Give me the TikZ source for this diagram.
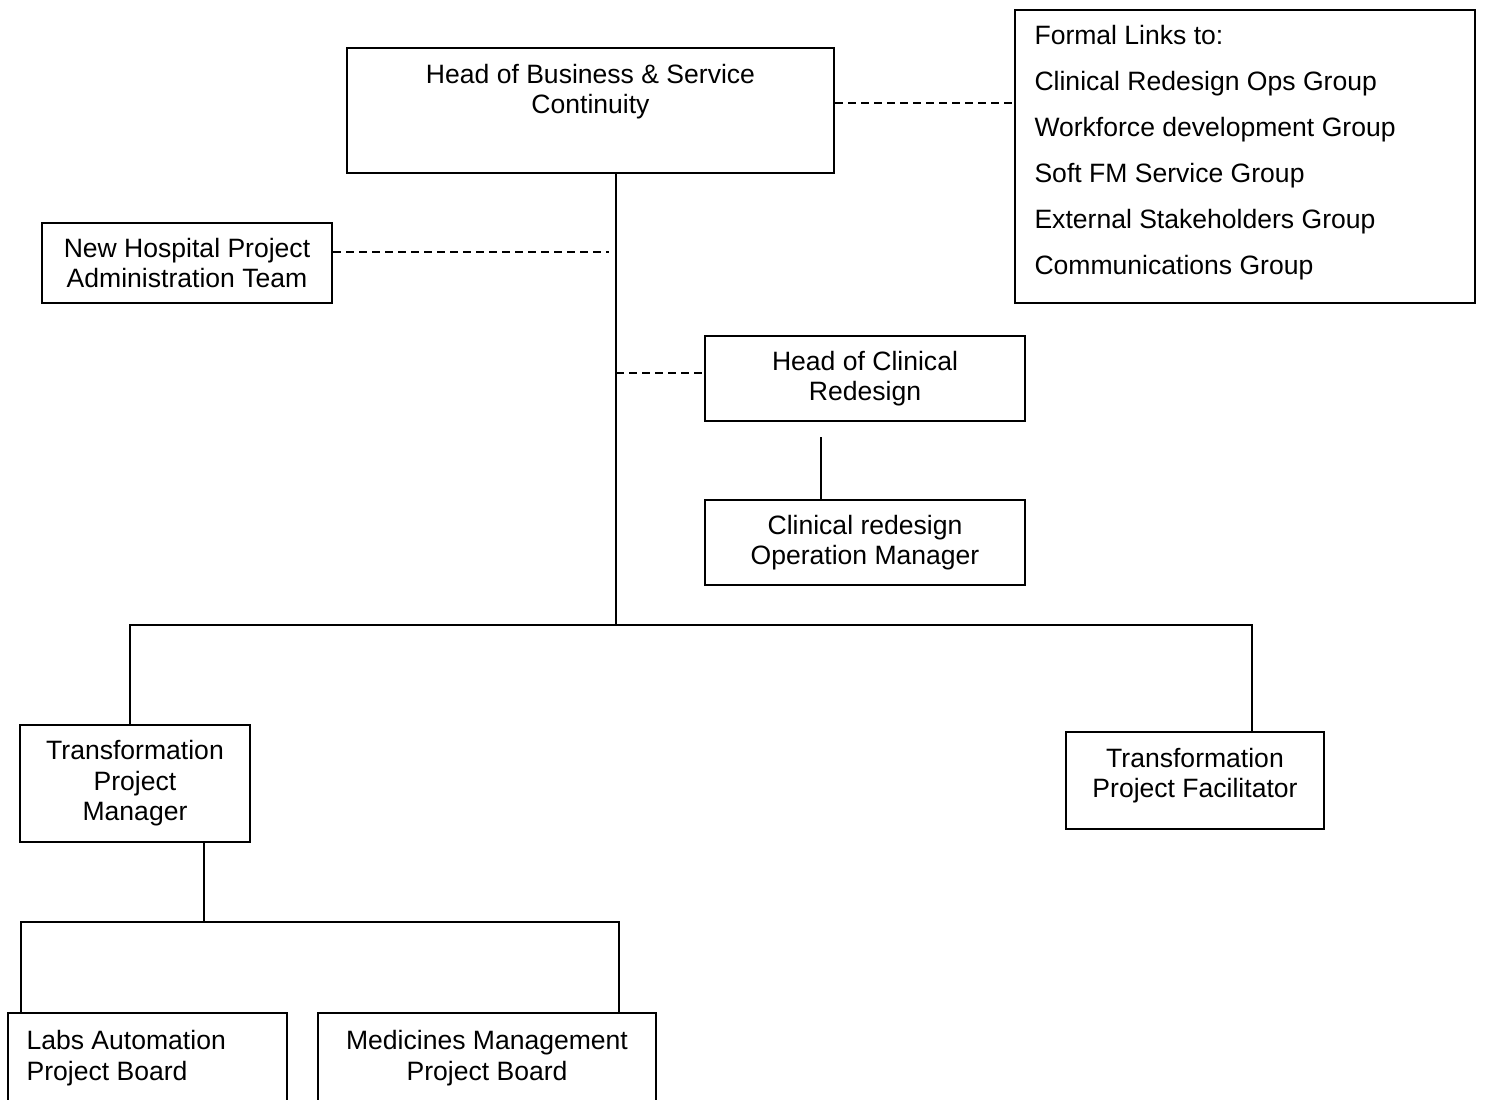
\documentclass[tikz,border=0pt]{standalone}
\usepackage{fontspec}
\setmainfont{Liberation Sans}
\usepackage{tikz}
\usetikzlibrary{positioning}
\tikzstyle{unit} = [rectangle,draw=black,fill=white,line width=0.6pt,
inner sep=0pt, align=center]
\tikzstyle{link} = [line width=0.6pt]
\tikzstyle{informal} = [link, dash pattern=on 0.08cm off 0.05cm]
\tikzstyle{every label} += [inner sep=0pt]

\begin{document}
\begin{tikzpicture}[x=0.01cm, y=-0.01cm, font=\fontsize{7.55}{8.7}\selectfont]
  \clip (0,0) rectangle (1487,1099);
  \fill[white] (0,0) rectangle (1487,1099);
  % top of the chart
  \node[unit, minimum width=4.87cm, minimum height=1.25cm,
    label={[align=center, yshift=0.19cm]center:Head of Business \& Service\\Continuity}]
    (hbsc) at (590.5,110.5) {};
  \node[unit, minimum width=4.60cm, minimum height=2.93cm,
    label={[align=left, anchor=west, xshift=0.2cm, yshift=0.04cm,
      font=\fontsize{7.55}{13.1}\selectfont]west:Formal Links to:\\
      Clinical Redesign Ops Group\\Workforce development Group\\
      Soft FM Service Group\\External Stakeholders Group\\Communications Group}]
    (links) at (1245,156.5) {};
  \node[unit, minimum width=2.90cm, minimum height=0.80cm]
    (nhpat) at (187,263) {New Hospital Project\\Administration Team};
  \node[unit, minimum width=3.20cm, minimum height=0.85cm]
    (hcr) at (865,378.5) {Head of Clinical\\Redesign};
  \node[unit, minimum width=3.20cm, minimum height=0.85cm]
    (crom) at (865,542.5) {Clinical redesign\\Operation Manager};
  % second level
  \node[unit, minimum width=2.30cm, minimum height=1.17cm]
    (tpm) at (135,783.5) {Transformation\\Project\\Manager};
  \node[unit, minimum width=2.58cm, minimum height=0.97cm,
    label={[align=center, yshift=0.05cm]center:Transformation\\Project Facilitator}]
    (tpf) at (1195,780.5) {};
  % project boards
  \node[unit, minimum width=2.79cm, minimum height=1.10cm, anchor=north,
    label={[align=left, anchor=north west, xshift=0.19cm, yshift=-0.175cm]north west:Labs Automation\\Project Board}]
    (lapb) at (147.5,1012) {};
  \node[unit, minimum width=3.38cm, minimum height=1.10cm, anchor=north,
    label={[align=center, anchor=north, yshift=-0.175cm]north:Medicines Management\\Project Board}]
    (mmpb) at (487,1012) {};

  \coordinate (trunk) at (616,625);
  \coordinate (busL) at (130,625);
  \coordinate (busR) at (1252,625);
  \coordinate (nhend) at (609,252);
  \coordinate (hcrtap) at (616,373);
  \coordinate (hcrgap) at (821,437);
  \coordinate (sub) at (204,922);
  \coordinate (subL) at (21,922);
  \coordinate (subR) at (619,922);

  \draw[link] (hbsc.south -| trunk) -- (trunk);
  \draw[link] (tpm.north -| busL) -- (busL) -- (busR) -- (tpf.north -| busR);
  \draw[informal] ([yshift=0.075cm]hbsc.east) -- ([yshift=0.075cm]hbsc.east -| links.west);
  \draw[informal] (nhpat.east |- nhend) -- (nhend);
  \draw[informal] (hcrtap) -- (hcrtap -| hcr.west);
  \draw[link] (hcrgap) -- (hcrgap |- crom.north);
  \draw[link] (tpm.south -| sub) -- (sub);
  \draw[link] (lapb.north -| subL) -- (subL) -- (subR) -- (mmpb.north -| subR);
\end{tikzpicture}
\end{document}
